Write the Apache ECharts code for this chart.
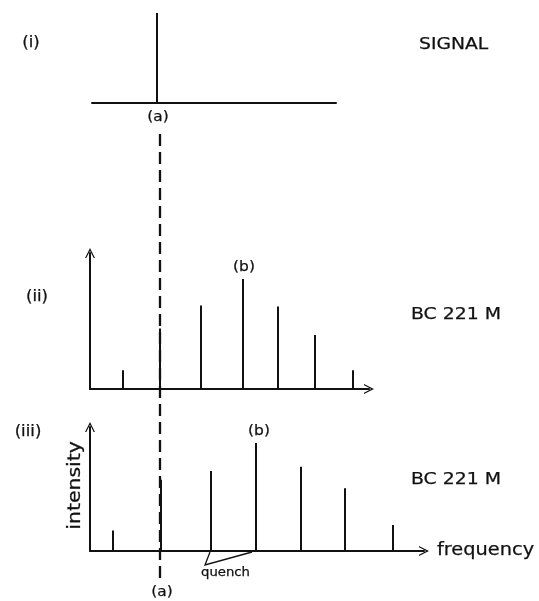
<!DOCTYPE html>
<html><head><meta charset="utf-8">
<script src="https://cdn.jsdelivr.net/npm/echarts@6/dist/echarts.min.js"></script>
<style>html,body{margin:0;padding:0;background:#fff}#c{width:539px;height:601px}</style>
</head><body><div id="c"></div>
<script>
// frequency offsets relative to line (a), and intensities (b = 100)
const signalFreq = [-3];
const signalInt = [100];
const bc1Freq = [-37, 0, 41, 83, 118, 155, 193];
const bc1Int = [17, 55, 76, 100, 75, 49, 17];
const bc2Freq = [-47, 1, 51, 96, 141, 185, 233];
const bc2Int = [19, 66, 74, 100, 78, 58, 24];
const panelLabels = ['(i)', '(ii)', '(iii)'];
const sampleLabels = ['SIGNAL', 'BC 221 M', 'BC 221 M'];
const axisNames = ['frequency', 'intensity'];

const FONT = 'DejaVu Sans';
const chev = 'path://M0,10 L5,0 L10,10 L8.7,10 L5,2.8 L1.3,10 Z';

function pairs(f, v) { return f.map((x, i) => [x, v[i]]); }
function spikes(gi, data, w) {
  return {
    type: 'custom', xAxisIndex: gi, yAxisIndex: gi, data: data,
    renderItem: function (params, api) {
      const p0 = api.coord([api.value(0), 0]);
      const p1 = api.coord([api.value(0), api.value(1)]);
      return { type: 'line', shape: { x1: p0[0], y1: p0[1], x2: p1[0], y2: p1[1] },
        style: { stroke: '#111', lineWidth: w } };
    }
  };
}
const axisLineBase = { show: true, onZero: false, lineStyle: { color: '#111', width: 2 } };
const noStuff = { axisTick: { show: false }, axisLabel: { show: false }, splitLine: { show: false } };
const arrowLine = Object.assign({}, axisLineBase, { symbol: ['none', chev], symbolSize: [12, 10] });

const chart = echarts.init(document.getElementById('c'), null, { renderer: 'canvas' });
chart.setOption({
  animation: false,
  backgroundColor: '#fff',
  grid: [
    { left: 92, top: 13, width: 244, height: 90 },
    { left: 90, top: 253, width: 279, height: 136 },
    { left: 90, top: 427, width: 334, height: 124 }
  ],
  xAxis: [
    Object.assign({ type: 'value', gridIndex: 0, min: -68, max: 176, axisLine: axisLineBase }, noStuff),
    Object.assign({ type: 'value', gridIndex: 1, min: -70, max: 209, axisLine: arrowLine }, noStuff),
    Object.assign({ type: 'value', gridIndex: 2, min: -70, max: 264, axisLine: arrowLine }, noStuff)
  ],
  yAxis: [
    Object.assign({ type: 'value', gridIndex: 0, min: 0, max: 100, axisLine: { show: false } }, noStuff),
    Object.assign({ type: 'value', gridIndex: 1, min: 0, max: 123.6, axisLine: arrowLine }, noStuff),
    Object.assign({ type: 'value', gridIndex: 2, min: 0, max: 114.8, axisLine: arrowLine }, noStuff)
  ],
  series: [
    spikes(0, pairs(signalFreq, signalInt), 2),
    spikes(1, pairs(bc1Freq, bc1Int), 2),
    spikes(2, pairs(bc2Freq, bc2Int), 2)
  ]
});

// annotations positioned through the axes
const ax = (g, x, y) => chart.convertToPixel({ xAxisIndex: g, yAxisIndex: g }, [x, y]);
const aX = ax(1, 0, 0)[0];
const b1 = ax(1, bc1Freq[3], bc1Int[3]);
const b2 = ax(2, bc2Freq[3], bc2Int[3]);
const s0 = ax(0, signalFreq[0], 0);
const q1 = ax(2, bc2Freq[2], 0);
const q2 = ax(2, bc2Freq[3], 0);
const xEnd = ax(2, 264, 0);
const yMid = ax(2, -70, 57);
const txt = (x, y, t, size, align, sx, rot) => ({ type: 'text', x: x, y: y, scaleX: sx || 1, rotation: rot || 0,
  style: { text: t, font: size + 'px "' + FONT + '"', fill: '#111', stroke: '#111', lineWidth: 0.25,
    align: align || 'center', verticalAlign: 'middle' } });
chart.setOption({
  graphic: [
    { type: 'line', shape: { x1: aX, y1: 134, x2: aX, y2: 583 }, style: { stroke: '#111', lineWidth: 2.3, lineDash: [12, 6] } },
    { type: 'polyline', shape: { points: [[q1[0] - 1, q1[1] + 1], [q1[0] - 6, q1[1] + 14], [q2[0] - 4, q2[1] + 1]] }, style: { stroke: '#111', lineWidth: 1.3, fill: null } },
    txt(31, 43, panelLabels[0], 15, 'center', 1.1),
    txt(37, 297, panelLabels[1], 15, 'center', 1.1),
    txt(28, 432, panelLabels[2], 15, 'center', 1.1),
    txt(419, 45, sampleLabels[0], 16, 'left', 1.17),
    txt(411, 315, sampleLabels[1], 16, 'left', 1.18),
    txt(411, 480, sampleLabels[2], 16, 'left', 1.18),
    txt(xEnd[0] + 13, xEnd[1], axisNames[0], 17, 'left', 1.14),
    txt(yMid[0] - 14, yMid[1] - 4, axisNames[1], 17, 'center', 1.2, Math.PI / 2),
    txt(s0[0] + 1, 117, '(a)', 14, 'center', 1.1),
    txt(aX + 2, 592, '(a)', 14, 'center', 1.1),
    txt(b1[0] + 1, b1[1] - 12, '(b)', 14, 'center', 1.1),
    txt(b2[0] + 3, b2[1] - 12, '(b)', 14, 'center', 1.1),
    txt((q1[0] + q2[0]) / 2 - 8, 573, 'quench', 12, 'center', 1.1)
  ]
});
</script></body></html>
